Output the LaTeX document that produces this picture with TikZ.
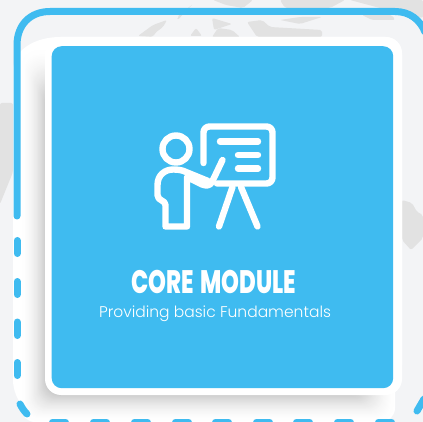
\documentclass[tikz,border=0pt]{standalone}
\usepackage{fontspec}
\newfontfamily\titlefont[FakeStretch=0.70]{Poppins ExtraBold}
\newfontfamily\subfont{Poppins Light}
\definecolor{skyb}{HTML}{3FBBF0}
\definecolor{pagebg}{HTML}{F3F4F6}
\definecolor{mapg}{HTML}{E2E2E2}
\definecolor{shadeg}{HTML}{CCCCCC}
\tikzset{
  frameline/.style={draw=skyb,line width=7pt,line cap=round},
  iconline/.style={draw=white,line width=6.4pt,line cap=round,line join=round},
  blob/.style={fill=mapg,draw=none,rounded corners=2pt}
}
\begin{document}
\begin{tikzpicture}[x=1pt,y=-1pt]
\useasboundingbox (0,0) rectangle (423,422);
\clip (0,0) rectangle (423,422);
\fill[pagebg] (0,0) rectangle (423,422);
% map blobs
\fill[blob] (138,36) -- (153,25) -- (167,20) -- (163,27) -- (155,33) -- (153,37) -- cycle;
\fill[blob] (177,17) -- (193,4) -- (184,13) -- (178,20) -- cycle;
\fill[blob] (213,0) -- (253,0) -- (243,8) -- (226,5) -- cycle;
\fill[blob] (190,36) -- (196,28) -- (202,36) -- cycle;
\fill[blob] (212,37) -- (218,28) -- (232,30) -- (240,37) -- cycle;
\fill[blob] (247,22) -- (262,20) -- (270,27) -- (322,30) -- (322,37) -- (257,37) -- cycle;
\fill[blob] (280,20) -- (300,17) -- (322,17) -- (300,24) -- cycle;
\fill[blob] (280,0) -- (345,0) -- (330,8) -- (285,8) -- cycle;
\fill[blob] (350,0) -- (423,0) -- (423,18) -- (380,8) -- cycle;
\fill[blob] (362,15) -- (392,15) -- (395,20) -- (372,20) -- cycle;
\fill[blob] (212,18) -- (232,24) -- (214,30) -- cycle;
\fill[blob] (0,103) -- (13,103) -- (13,172) -- (0,204) -- cycle;
\fill[blob] (402,200) -- (412,203) -- (417,212) -- (423,215) -- (423,238) -- (411,250) -- (402,240) -- cycle;
% outer white panel
\fill[white] (13,70) .. controls (13,50) and (35,37) .. (60,37) -- (385,37) .. controls (395,37) and (402,45) .. (402,55)
  -- (402,365) .. controls (400,390) and (385,412) .. (365,425) -- (50,425) .. controls (30,420) and (13,400) .. (13,380) -- cycle;
% soft shadow: nested rounded shapes
\foreach \t in {0,1,...,30}{
  \pgfmathsetmacro{\mixv}{100*(\t/30)^1.8}
  \pgfmathsetmacro{\xl}{21+24.5*\t/30}
  \pgfmathsetmacro{\yb}{422-27*\t/30}
  \pgfmathsetmacro{\yt}{48+42*\t/30}
  \pgfmathsetmacro{\xr}{395-30*\t/30}
  \fill[shadeg!\mixv!white,rounded corners=14pt] (\xl,\yt) rectangle (\xr,\yb);
}
% card
\fill[white,rounded corners=16pt] (45,37) rectangle (402,395);
\node[fill=skyb,rounded corners=10pt,minimum width=341.5pt,minimum height=342pt,inner sep=0pt,anchor=north west] (card) at (51.5,46) {};
% dashed/solid frame
\draw[frameline] (17,216) -- (17,45) .. controls (17,25) and (30,11.5) .. (50,11.5) -- (395,11.5) .. controls (410,11.5) and (420,20) .. (425,32);
\foreach \ya/\yb in {240.5/253.5,281.5/294.5,322/335.5,362.5/375.5}{
  \draw[frameline] (17,\ya) -- (17,\yb);
}
\draw[frameline] (20,404) .. controls (21.5,407) and (24,411) .. (27,414);
\foreach \xa in {52.5,93.5,134.5,175.5,215.5,256.5,296.5,337.5,378.5}{
  \draw[frameline] (\xa,422) -- ++(13,0);
}
\draw[frameline] (417,411) -- (424,399);
% icon: board
\draw[iconline,rounded corners=6pt] (203.5,163) -- (203.5,126.5) -- (272.5,126.5) -- (272.5,183.5) -- (217,183.5);
\draw[iconline] (220,141.5) -- (258,141.5);
\draw[iconline] (238,155) -- (258,155);
\draw[iconline] (238,168.5) -- (258,168.5);
\draw[iconline] (232.5,187) -- (219,226.5);
\draw[iconline] (241,187) -- (257.5,226.5);
% icon: presenter
\node[circle,draw=white,line width=6.4pt,minimum size=27pt,inner sep=0pt] (head) at (176,149) {};
\draw[iconline] (222.5,160) -- (212,182) .. controls (210,186) and (206,186) .. (202,184.5) -- (187,177) -- (187,226.5) -- (165.5,226.5) -- (165.5,205)
  .. controls (165.5,200) and (157.5,201) .. (157.5,195) -- (157.5,185) .. controls (157.5,175) and (165,169.5) .. (173,169.5) .. controls (178,169.5) and (182,170) .. (186,172) -- (208,181);
% text
\node[text=white,inner sep=0pt,font=\titlefont\fontsize{32.5}{33}\selectfont] (title) at (213.5,282) {CORE\hspace{2pt} MODULE};
\node[text=white,inner sep=0pt,font=\subfont\fontsize{15.5}{16}\selectfont] (sub) at (215,313.5) {Providing basic Fundamentals};
\end{tikzpicture}
\end{document}
